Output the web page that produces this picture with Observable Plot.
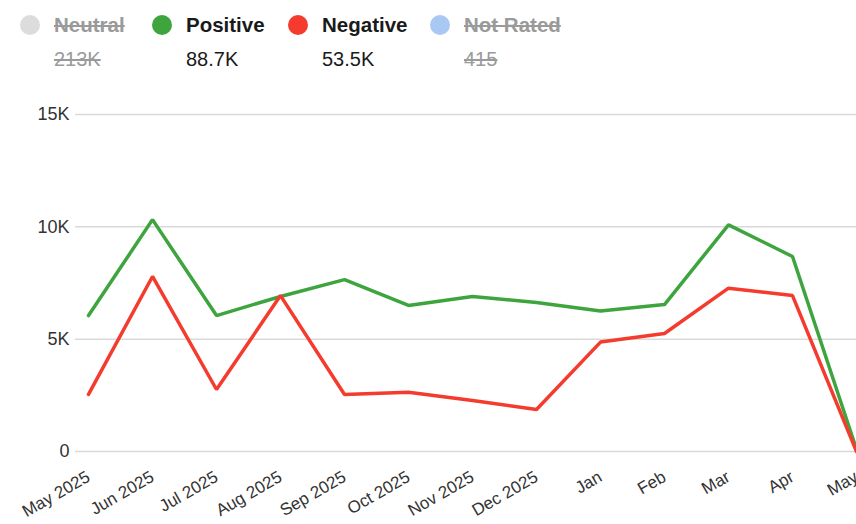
<!DOCTYPE html>
<html>
<head>
<meta charset="utf-8">
<script src="https://cdn.jsdelivr.net/npm/d3@7"></script>
<script src="https://cdn.jsdelivr.net/npm/@observablehq/plot@0.6"></script>
<style>
  html, body { margin: 0; padding: 0; background: #fff; }
  body { width: 856px; height: 524px; overflow: hidden; font-family: "Liberation Sans", Arial, Helvetica, sans-serif; }
  #legend { position: relative; height: 85px; }
  .item { position: absolute; top: 0; }
  .dot { position: absolute; width: 20px; height: 20px; border-radius: 50%; top: 15px; }
  .name { position: absolute; top: 13px; font-size: 20.5px; font-weight: bold; color: #1a1a1a; white-space: nowrap; }
  .val { position: absolute; top: 48px; font-size: 20px; color: #1a1a1a; white-space: nowrap; }
  .off .name, .off .val { color: #9a9a9a; text-decoration: line-through; }
  #chart svg { display: block; }
</style>
</head>
<body>
<div id="legend"></div>
<div id="chart"></div>
<script>
const months = ["May 2025","Jun 2025","Jul 2025","Aug 2025","Sep 2025","Oct 2025","Nov 2025","Dec 2025","Jan","Feb","Mar","Apr","May"];
const positive = [6050, 10320, 6050, 6900, 7650, 6500, 6900, 6630, 6250, 6540, 10090, 8680, 100];
const negative = [2540, 7790, 2760, 6940, 2540, 2640, 2270, 1870, 4870, 5250, 7270, 6940, 0];
const yTicks = [0, 5000, 10000, 15000];

const legendNames = ["Neutral", "Positive", "Negative", "Not Rated"];
const legendTotals = ["213K", "88.7K", "53.5K", "415"];
const legendColors = ["#dcdcdc", "#3ea53e", "#f43b2e", "#a9c9f4"];
const legendActive = [false, true, true, false];
const legendX = [20, 152, 288, 430];

const legend = document.getElementById("legend");
legendNames.forEach((n, i) => {
  const it = document.createElement("div");
  it.className = "item" + (legendActive[i] ? "" : " off");
  it.style.left = legendX[i] + "px";
  it.innerHTML = `<div class="dot" style="left:0;background:${legendColors[i]}"></div>
    <div class="name" style="left:34px">${n}</div>
    <div class="val" style="left:34px">${legendTotals[i]}</div>`;
  legend.appendChild(it);
});

const data = [];
months.forEach((m, i) => {
  data.push({month: m, value: positive[i], series: "Positive"});
  data.push({month: m, value: negative[i], series: "Negative"});
});

const chart = Plot.plot({
  width: 856,
  height: 439,
  marginLeft: 75,
  marginRight: 0,
  marginTop: 29,
  marginBottom: 73,
  style: {fontFamily: "'Liberation Sans', Arial, sans-serif", fontSize: "18px", color: "#333", background: "#fff", overflow: "visible"},
  x: {type: "point", domain: months, padding: 0, insetLeft: 12, label: null},
  y: {domain: [0, 15000], label: null},
  color: {domain: ["Positive", "Negative"], range: [legendColors[1], legendColors[2]]},
  marks: [
    Plot.gridY(yTicks, {stroke: "#d9d9d9", strokeOpacity: 1, strokeWidth: 1.5}),
    Plot.axisY(yTicks, {tickSize: 0, tickPadding: 6, label: null, tickFormat: d => d === 0 ? "0" : (d / 1000) + "K", fill: "#333"}),
    Plot.axisX({tickSize: 0, tickPadding: 24, tickRotate: -30, fontSize: 17, label: null, fill: "#333"}),
    Plot.line(data, {x: "month", y: "value", z: "series", stroke: "series", strokeWidth: 3.5, strokeLinejoin: "miter", curve: "linear"})
  ]
});
document.getElementById("chart").appendChild(chart);
</script>
</body>
</html>
